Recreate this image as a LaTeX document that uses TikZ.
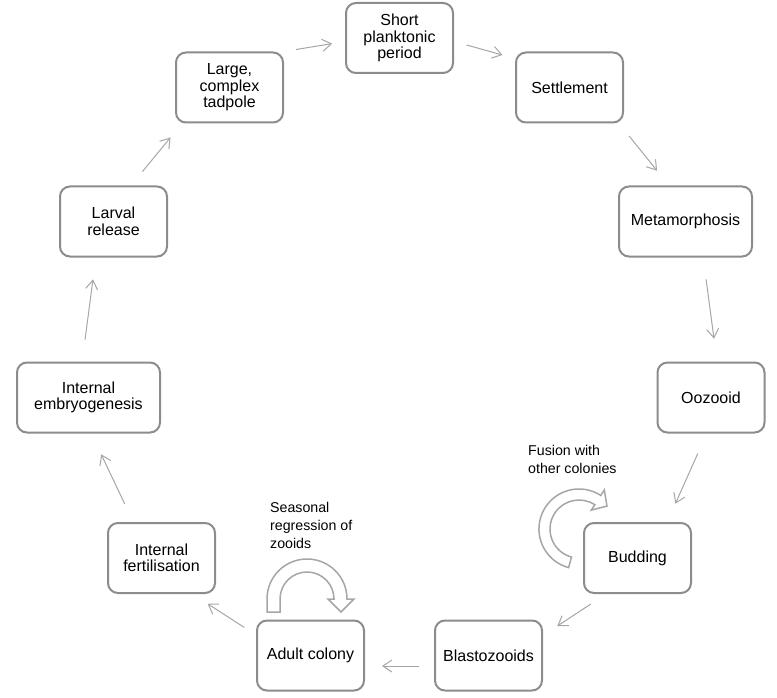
\documentclass[tikz,border=0pt]{standalone}
\usepackage{fontspec}
\setmainfont{Liberation Sans}
\usetikzlibrary{arrows.meta,calc}
\definecolor{boxgray}{HTML}{8C8C8C}
\definecolor{arrgray}{HTML}{A6A6A6}
\begin{document}
\begin{tikzpicture}[x=1pt,y=-1pt,
  stage/.style={draw=boxgray, line width=2pt, rounded corners=10pt, fill=white,
    minimum width=107pt, minimum height=70pt, align=center, inner sep=2pt,
    font=\fontsize{16}{16.5}\selectfont},
  conn/.style={draw=arrgray, line width=1pt, -{Straight Barb[length=9pt,width=12pt]}},
  note/.style={anchor=west, align=left, inner sep=0pt, font=\fontsize{14.2}{18}\selectfont},
  blockarrow/.style={draw=arrgray, line width=1.5pt, fill=white, line join=miter}]
\useasboundingbox (0,0) rectangle (777,698);
\node[stage] (short) at (399.5,38) {Short\\planktonic\\period};
\node[stage] (sett) at (569.5,87.5) {Settlement};
\node[stage, minimum width=133pt] (meta) at (685.5,221.5) {Metamorphosis};
\node[stage] (ooz) at (711,397.5) {Oozooid};
\node[stage] (bud) at (637.5,558) {Budding};
\node[stage] (blas) at (488.5,655.5) {Blastozooids};
\node[stage] (adult) at (310.5,655.5) {Adult colony};
\node[stage] (fert) at (161.5,558) {Internal\\fertilisation};
\node[stage, minimum width=143pt] (emb) at (88.5,397.5) {Internal\\embryogenesis};
\node[stage] (larv) at (113.5,221.5) {Larval\\release};
\node[stage] (tad) at (229.5,87.5) {Large,\\complex\\tadpole};

\draw[conn, shorten <=12pt, shorten >=13pt] (tad.north east) -- ($(short.west)+(0,3.5)$);
\draw[conn, shorten <=13pt, shorten >=13pt] ($(short.east)+(0,3.5)$) -- ($(sett.west)+(0,-29)$);
\draw[conn, shorten <=16pt, shorten >=19pt] ($(sett.south east)+(-5,0)$) -- ($(meta.north)+(-16.5,0)$);
\draw[conn, shorten <=22pt, shorten >=23pt] ($(meta.south)+(17.7,0)$) -- ($(ooz.north)+(6,0)$);
\draw[conn, shorten <=22pt, shorten >=20pt] ($(ooz.south)+(-4.3,0)$) -- ($(bud.north)+(29.7,0)$);
\draw[conn, shorten <=18pt, shorten >=17pt] ($(bud.south)+(-31.5,0)$) -- ($(blas.east)+(0,-20)$);
\draw[conn, shorten <=15pt, shorten >=17pt] ($(blas.west)+(0,10.5)$) -- ($(adult.east)+(0,10.5)$);
\draw[conn, shorten <=14pt, shorten >=18pt] ($(adult.west)+(0,-20.5)$) -- ($(fert.south)+(31,0)$);
\draw[conn, shorten <=20pt, shorten >=23pt] ($(fert.north)+(-28.2,0)$) -- ($(emb.south)+(2.8,0)$);
\draw[conn, shorten <=22pt, shorten >=22pt] ($(emb.north)+(-6.3,0)$) -- ($(larv.south)+(-17.7,0)$);
\draw[conn, shorten <=18pt, shorten >=18pt] ($(larv.north)+(17.5,0)$) -- ($(tad.south)+(-47.5,0)$);

% seasonal regression block arrow
\draw[blockarrow] (267,612) -- (267,599) arc[start angle=180, end angle=360, radius=40]
  -- (354,599) -- (341,612) -- (328,599) -- (334,599)
  arc[start angle=360, end angle=180, radius=27] -- (280,612) -- cycle;
% fusion block arrow
\draw[blockarrow] (568.6,567.6) arc[start angle=105, end angle=303, radius=40]
  -- (604.3,490) -- (607,506.1) -- (591.3,510.1) -- (594.8,504.7)
  arc[start angle=303, end angle=105, radius=29] -- cycle;

\node[note] (seas) at (270,525) {Seasonal\\regression of\\zooids};
\node[note] (fus) at (528,459) {Fusion with\\other colonies};
\end{tikzpicture}
\end{document}
